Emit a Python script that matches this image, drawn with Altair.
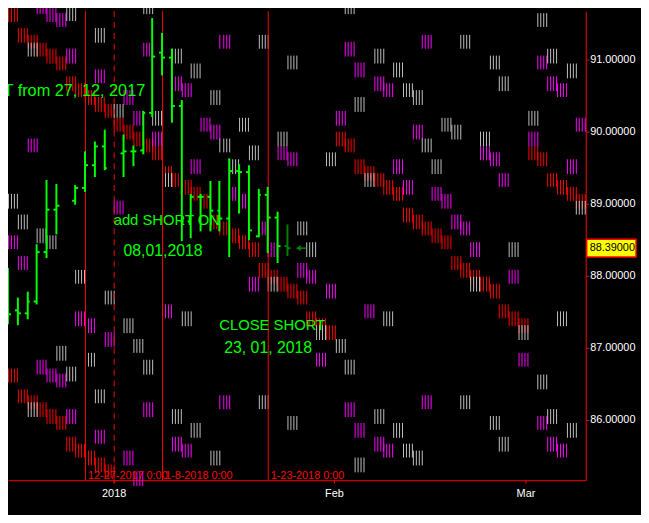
import altair as alt
import pandas as pd

# ---------------- data ----------------
# OHLC bars (trading-day index from the left edge)
bar_idx = [0, 1, 2, 3, 4, 5, 7, 8, 9, 10, 12, 13, 14, 15, 16, 17, 18, 19, 20, 21, 22, 23, 24, 25, 26, 27, 28, 29]
opens = [87.57, 87.52, 87.48, 87.65, 88.33, 88.92, 89.05, 89.22, 89.54, 89.80, 89.70, 89.73, 89.74, 90.26,
         91.10, 91.03, 90.36, 88.76, 89.10, 89.10, 88.91, 88.80, 89.46, 89.44, 88.55, 89.13, 88.81, 88.42]
highs = [88.11, 87.70, 87.79, 88.44, 89.33, 89.28, 89.26, 89.73, 89.87, 90.03, 89.96, 89.81, 90.29, 91.58,
         91.37, 91.15, 90.44, 89.14, 89.14, 89.32, 89.32, 89.63, 89.55, 89.54, 89.21, 89.24, 88.89, 88.72]
lows = [87.33, 87.32, 87.40, 87.61, 88.25, 88.58, 88.99, 89.17, 89.37, 89.47, 89.37, 89.52, 89.69, 90.21,
        90.79, 90.13, 88.48, 88.52, 88.62, 88.62, 88.62, 88.26, 88.87, 88.50, 88.54, 88.32, 88.18, 88.28]
closes = [87.47, 87.48, 87.65, 88.33, 88.92, 88.98, 89.22, 89.54, 89.80, 89.50, 89.73, 89.73, 90.26, 91.05,
          91.03, 90.36, 88.76, 89.10, 89.10, 88.91, 88.80, 89.46, 89.44, 88.63, 89.13, 88.81, 88.42, 88.39]
last_price = 88.39

# projection clusters: (bar index, top price)
red_clusters = [
    (0, 91.72), (1, 91.44), (2, 91.35), (3, 91.24), (4, 91.15), (5, 91.05), (6, 90.77), (7, 90.68),
    (8, 90.58), (9, 90.48), (10, 90.39), (11, 90.20), (12, 90.10), (13, 90.00), (14, 89.91), (15, 89.80),
    (16, 89.52), (17, 89.43), (18, 89.33), (19, 89.24), (20, 89.14), (21, 88.85), (22, 88.76), (23, 88.66),
    (24, 88.57), (25, 88.47), (26, 88.18), (27, 88.09), (28, 87.99), (29, 87.89), (30, 87.80), (31, 87.51),
    (32, 87.41), (33, 87.32),
    (34, 90.00), (35, 89.91), (36, 89.62), (37, 89.52), (38, 89.43), (39, 89.33), (40, 89.24), (41, 88.95),
    (42, 88.85), (43, 88.76), (44, 88.66), (45, 88.57), (46, 88.28), (47, 88.18), (48, 88.09), (49, 87.99),
    (50, 87.89), (51, 87.61), (52, 87.51), (53, 87.41),
    (54, 89.80), (55, 89.72), (56, 89.43), (57, 89.33), (58, 89.24), (59, 89.14),
    (0, 86.72), (1, 86.43), (2, 86.35), (3, 86.25), (4, 86.15), (5, 86.06), (6, 85.77), (7, 85.68),
    (8, 85.58), (9, 85.48), (10, 85.39),
]
magenta_clusters = [
    (0, 88.57), (1, 88.28), (2, 89.91), (3, 86.84), (3, 91.84), (4, 91.72), (4, 86.72), (5, 91.65),
    (5, 86.65), (6, 91.15), (6, 86.15), (7, 87.51), (8, 87.41), (9, 90.87), (9, 85.87), (10, 87.22),
    (11, 89.05), (12, 90.58), (12, 85.58), (13, 90.29), (13, 85.29), (14, 91.24), (14, 86.25), (15, 90.00),
    (16, 87.61), (17, 90.77), (17, 85.77), (18, 90.68), (18, 85.68), (19, 89.62), (20, 90.20), (21, 90.10),
    (22, 91.35), (22, 86.35), (23, 89.24), (24, 89.14), (25, 87.99), (26, 88.76), (27, 88.47), (28, 89.80),
    (29, 89.72), (30, 88.18), (31, 88.09), (32, 86.94), (33, 87.89), (34, 90.29), (35, 91.25), (35, 86.25),
    (36, 90.96), (36, 85.96), (37, 87.61), (38, 90.77), (38, 85.77), (39, 90.68), (39, 85.68), (40, 89.62),
    (41, 89.33), (42, 90.10), (43, 91.35), (43, 86.35), (44, 89.24), (45, 89.14), (46, 88.85), (47, 88.76),
    (48, 88.47), (49, 89.80), (50, 89.72), (51, 89.43), (52, 88.09), (53, 86.94), (54, 90.00), (55, 91.06),
    (55, 86.06), (56, 90.77), (56, 85.77), (57, 90.68), (57, 85.68), (58, 89.62), (59, 90.20),
]
gray_clusters = [
    (0, 89.14), (1, 88.85), (2, 91.24), (2, 86.25), (3, 88.66), (4, 88.57), (5, 87.03), (6, 91.74),
    (6, 86.74), (7, 88.09), (8, 86.94), (9, 91.44), (9, 86.43), (10, 87.80), (11, 90.39), (12, 87.41),
    (13, 87.13), (14, 86.84), (14, 91.84), (15, 90.29), (16, 89.43), (17, 91.15), (17, 86.15), (18, 87.51),
    (19, 90.95), (19, 85.96), (21, 90.58), (21, 85.58), (22, 89.91), (23, 89.62), (24, 90.20), (25, 89.81),
    (26, 91.35), (26, 86.35), (27, 87.99), (28, 90.00), (29, 91.06), (29, 86.06), (30, 88.76), (31, 88.47),
    (32, 87.32), (33, 89.72), (34, 87.13), (35, 86.84), (35, 91.84), (36, 90.48), (36, 85.48), (37, 89.43),
    (38, 91.15), (38, 86.15), (39, 87.51), (40, 90.96), (40, 85.96), (41, 90.68), (41, 85.68), (42, 90.58),
    (42, 85.58), (43, 89.91), (44, 89.62), (45, 90.20), (46, 90.10), (47, 91.35), (47, 86.35), (48, 87.99),
    (49, 90.00), (50, 91.06), (50, 86.06), (51, 90.77), (51, 85.77), (52, 88.47), (53, 87.32), (54, 90.29),
    (55, 91.65), (55, 86.63), (56, 91.15), (56, 86.15), (57, 87.51), (58, 90.95), (58, 85.96), (59, 89.05),
]

# vertical event lines
vline_bars = [8, 16, 27]
vline_labels = ["12-27-2017 0:00", "1-8-2018 0:00", "1-23-2018 0:00"]
year_sep_bar = 11

# axis ticks
x_tick_vals = [11, 33.85, 53.75]
x_tick_labels = ["2018", "Feb", "Mar"]
y_tick_vals = [86, 87, 88, 89, 90, 91]

# annotations
notes_text = ["add SHORT ON", "08,01,2018", "CLOSE SHORT", "23, 01, 2018"]
notes_x = [10.97, 12.0, 21.95, 22.46]
notes_y = [88.70, 88.28, 87.25, 86.94]
notes_size = [15, 16, 15, 16]
first_note = "SHORT from 27, 12, 2017"

# ---------------- build ----------------
CLUSTER_H = 0.2
LINE_STEP = 0.31
TICK = 0.3

rows = []
for cname, lst in (("red", red_clusters), ("magenta", magenta_clusters), ("gray", gray_clusters)):
    for b, top in lst:
        for k in range(4):
            rows.append({"x": b + k * LINE_STEP, "top": top, "bot": top - CLUSTER_H, "c": cname})
cl_df = pd.DataFrame(rows)

ohlc = pd.DataFrame({"bar": bar_idx, "open": opens, "high": highs, "low": lows, "close": closes})
ohlc["x_open"] = ohlc["bar"] - TICK
ohlc["x_close"] = ohlc["bar"] + TICK
done_df = ohlc[ohlc["bar"] != bar_idx[-1]]
live_df = ohlc[ohlc["bar"] == bar_idx[-1]]

expr = "''"
for v, lab in reversed(list(zip(x_tick_vals, x_tick_labels))):
    expr = f"datum.value == {v} ? '{lab}' : {expr}"

xs = alt.Scale(domain=[0, 60], nice=False, zero=False, round=True)
ys = alt.Scale(domain=[85.168, 91.675], nice=False, zero=False, round=True)
x_axis = alt.Axis(values=x_tick_vals, labelExpr=expr, title=None, orient="bottom",
                  labelPadding=4, tickSize=3, grid=False)
y_axis = alt.Axis(values=y_tick_vals, format=".5f", title=None, orient="right",
                  labelPadding=1, tickSize=3, grid=False)


def X(f):
    return alt.X(f"{f}:Q", scale=xs, axis=x_axis)


def Y(f):
    return alt.Y(f"{f}:Q", scale=ys, axis=y_axis)


FONT = "Liberation Sans"

clusters = alt.Chart(cl_df).mark_rule(strokeWidth=1, xOffset=0.5).encode(
    x=X("x"), y=Y("top"), y2=alt.Y2("bot"),
    color=alt.Color("c:N", scale=alt.Scale(domain=["red", "magenta", "gray"],
                                           range=["#ff0000", "#ff00ff", "#c0c0c0"]), legend=None),
)

vl_df = pd.DataFrame({"x": vline_bars, "label": vline_labels})
vlines = alt.Chart(vl_df).mark_rule(color="#ff0000", strokeWidth=1, opacity=1, xOffset=0.5).encode(
    x=X("x"), y=alt.value(0), y2=alt.value(475))
vlabels = alt.Chart(vl_df).mark_text(color="#ff0000", align="left", baseline="alphabetic",
                                     dx=3, fontSize=11, font=FONT).encode(
    x=X("x"), y=alt.value(474), text="label:N")
dashed = alt.Chart(pd.DataFrame({"x": [year_sep_bar]})).mark_rule(
    color="#ff0000", strokeWidth=1, strokeDash=[6, 5], xOffset=0.5).encode(
    x=X("x"), y=alt.value(0), y2=alt.value(478))


def ohlc_layers(df, col):
    b = alt.Chart(df)
    return [
        b.mark_rule(strokeWidth=2, color=col).encode(x=X("bar"), y=Y("low"), y2=alt.Y2("high")),
        b.mark_rule(strokeWidth=2, color=col).encode(x=X("x_open"), x2=alt.X2("bar"), y=Y("open")),
        b.mark_rule(strokeWidth=2, color=col).encode(x=X("bar"), x2=alt.X2("x_close"), y=Y("close")),
    ]


bars_done = ohlc_layers(done_df, "#00ff00")
bars_live = ohlc_layers(live_df, "#008000")

arrow_df = pd.DataFrame({"x": [30.2], "x2": [31.0], "p": [last_price]})
arrow_line = alt.Chart(arrow_df).mark_rule(color="#008000", strokeWidth=1.5).encode(
    x=X("x"), x2=alt.X2("x2"), y=Y("p"))
arrow_head = alt.Chart(arrow_df).mark_point(shape="triangle-left", filled=True, color="#008000",
                                            size=35, opacity=1).encode(x=X("x"), y=Y("p"))

notes_df = pd.DataFrame({"x": notes_x, "y": notes_y, "t": notes_text, "s": notes_size})
notes = alt.Chart(notes_df).mark_text(color="#00ff00", align="left", baseline="alphabetic",
                                      font=FONT, clip=True).encode(
    x=X("x"), y=Y("y"), text="t:N", size=alt.Size("s:Q", scale=None))
note0 = alt.Chart(pd.DataFrame({"x": [14.26], "y": [90.50], "t": [first_note]})).mark_text(
    color="#00ff00", align="right", baseline="alphabetic", font=FONT, fontSize=16.5, clip=True).encode(
    x=X("x"), y=Y("y"), text="t:N")

box_df = pd.DataFrame({"p": [last_price], "hi": [last_price + 0.125], "lo": [last_price - 0.125]})
box = alt.Chart(box_df).mark_rect(fill="#ffff00", stroke="#ff0000", strokeWidth=1.5).encode(
    x=alt.value(586), x2=alt.value(636), y=Y("hi"), y2=alt.Y2("lo"))
box_text = alt.Chart(box_df).mark_text(color="#000000", align="left", baseline="middle",
                                       fontSize=11, font=FONT).encode(
    x=alt.value(589), y=Y("p"), text=alt.Text("p:Q", format=".5f"))

chart = alt.layer(
    clusters, vlines, dashed, *bars_done, *bars_live, arrow_line, arrow_head,
    notes, note0, vlabels, box, box_text
).properties(
    width=585, height=475, background="#000000",
    padding={"left": 0, "top": 0, "right": 56, "bottom": 32},
    autosize=alt.AutoSizeParams(type="none"),
).configure_view(strokeOpacity=0).configure_axis(
    labelColor="#ffffff", labelFont=FONT, labelFontSize=11,
    domainColor="#ff0000", tickColor="#ff0000", domainWidth=1, tickWidth=1,
)

chart.save("out.html", embed_options={"renderer": "svg", "actions": False})
